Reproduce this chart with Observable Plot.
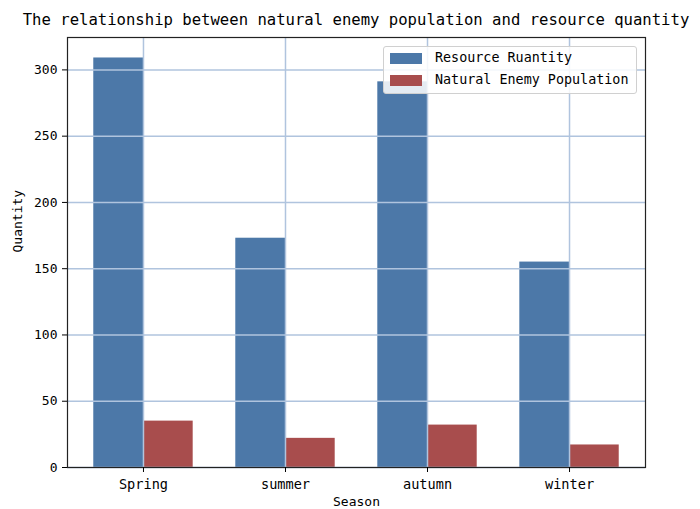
<!DOCTYPE html>
<html>
<head>
<meta charset="utf-8">
<script src="https://cdn.jsdelivr.net/npm/d3@7"></script>
<script src="https://cdn.jsdelivr.net/npm/@observablehq/plot@0.6"></script>
<style>
  html, body { margin: 0; padding: 0; background: #fff; }
  #wrap { position: relative; width: 700px; height: 509px; font-family: "DejaVu Sans Mono", monospace; }
  #title { width: 700px; height: 30px; box-sizing: border-box; padding-left: 12px; text-align: center; font-size: 15.6px; line-height: 41px; color: #000; white-space: nowrap; }
  #legend { position: absolute; left: 383px; top: 46px; width: 252px; height: 46px; border: 1px solid #d0d0d0; border-radius: 3px; background: rgba(255,255,255,0.85); }
  .item { position: absolute; left: 0; height: 20px; font-size: 13.4px; color: #000; }
  .sw { position: absolute; left: 6px; width: 32px; height: 11px; }
  .lab { position: absolute; left: 51px; white-space: nowrap; line-height: 20px; top: -10px; }
</style>
</head>
<body>
<div id="wrap">
  <div id="title">The relationship between natural enemy population and resource quantity</div>
  <div id="chart"></div>
  <div id="legend"></div>
</div>
<script>
const seasons = ["Spring", "summer", "autumn", "winter"];
const resourceQuantity = [309, 173, 291, 155];
const enemyPopulation = [35, 22, 32, 17];
const seriesNames = ["Resource Ruantity", "Natural Enemy Population"];
const seriesColors = ["#4c78a8", "#a84d4d"];
const yTicks = [0, 50, 100, 150, 200, 250, 300];

const data = seasons.map((s, i) => ({i, season: s, resource: resourceQuantity[i], enemy: enemyPopulation[i]}));
const barW = 0.35;
const gridColor = "#b0c4de";

const chart = Plot.plot({
  width: 700,
  height: 479,
  marginTop: 7,
  marginBottom: 42,
  marginLeft: 67,
  marginRight: 55,
  style: {fontFamily: "DejaVu Sans Mono, monospace", fontSize: "13px", color: "#000", background: "#fff"},
  x: {domain: [-0.535, 3.535], label: null},
  y: {domain: [0, 324.45], label: null},
  marks: [
    Plot.rectY(data, {x1: d => d.i - barW, x2: d => d.i, y1: 0, y2: "resource", fill: seriesColors[0]}),
    Plot.rectY(data, {x1: d => d.i, x2: d => d.i + barW, y1: 0, y2: "enemy", fill: seriesColors[1]}),
    Plot.gridX(data.map(d => d.i), {stroke: gridColor, strokeOpacity: 1, strokeWidth: 1.5}),
    Plot.gridY(yTicks, {stroke: gridColor, strokeOpacity: 1, strokeWidth: 1.5}),
    Plot.frame({stroke: "#222", strokeWidth: 1.2}),
    Plot.axisX(data.map(d => d.i), {tickFormat: i => seasons[i], tickSize: 5, tickPadding: 7, label: null, fontSize: 13.6}),
    Plot.axisY(yTicks, {tickSize: 5, tickPadding: 5, label: null, fontSize: 13}),
    Plot.text(["Quantity"], {frameAnchor: "left", rotate: -90, dx: -50, fontSize: 13}),
    Plot.text(["Season"], {frameAnchor: "bottom", dy: 38, fontSize: 13})
  ]
});
document.getElementById("chart").appendChild(chart);

const legend = document.getElementById("legend");
seriesNames.forEach((name, k) => {
  const item = document.createElement("div");
  item.className = "item";
  item.style.top = (11 + k * 22) + "px";
  const sw = document.createElement("div");
  sw.className = "sw";
  sw.style.background = seriesColors[k];
  sw.style.top = "-5px";
  const lab = document.createElement("div");
  lab.className = "lab";
  lab.textContent = name;
  item.appendChild(sw);
  item.appendChild(lab);
  legend.appendChild(item);
});
</script>
</body>
</html>
